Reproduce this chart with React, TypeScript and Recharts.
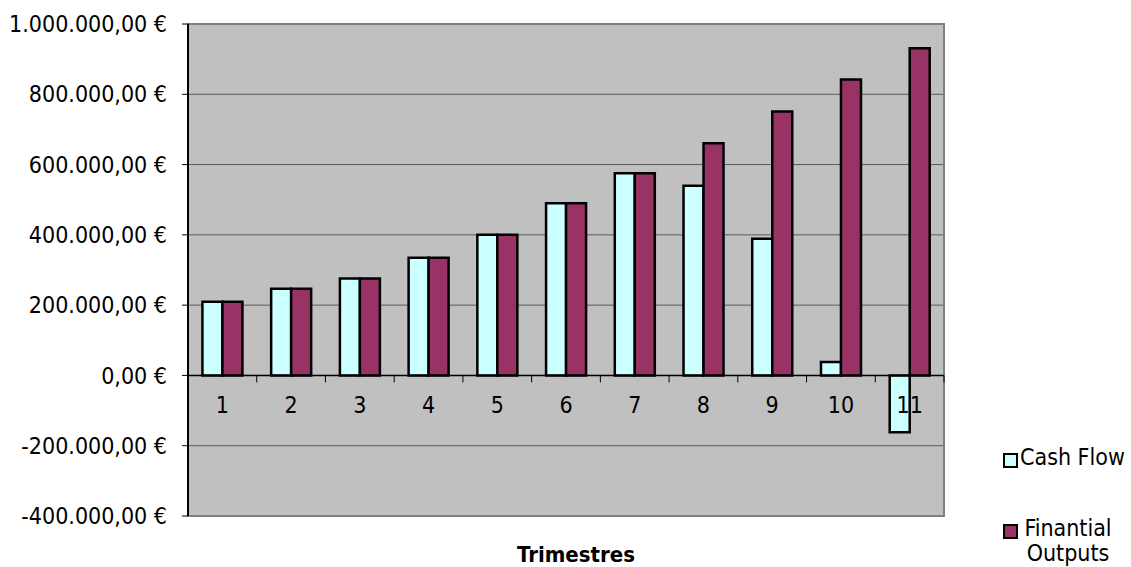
import React from "react"
import {
  BarChart,
  Bar,
  XAxis,
  YAxis,
  CartesianGrid,
  ReferenceLine,
  ReferenceArea,
  Legend,
} from "recharts"

const quarters = ["1", "2", "3", "4", "5", "6", "7", "8", "9", "10", "11"]
const cashFlow = [210000, 247000, 276000, 335000, 400000, 490000, 575000, 540000, 389000, 38000, -162000]
const finantialOutputs = [210000, 247000, 276000, 335000, 400000, 490000, 575000, 661000, 751000, 842000, 931000]
const yTicks = [-400000, -200000, 0, 200000, 400000, 600000, 800000, 1000000]
const seriesNames = ["Cash Flow", "Finantial Outputs"]
const xTitle = "Trimestres"

const COLORS = {
  cash: "#ccffff",
  fin: "#993366",
  plot: "#c0c0c0",
  grid: "#5a5a5a",
  border: "#808080",
}

const W = 1131
const H = 567
const MARGIN = { top: 24, right: 187, bottom: 0, left: 8 }
const Y_AXIS_W = 180
const X_AXIS_H = 51
const FONT = "'DejaVu Sans Condensed', 'DejaVu Sans', sans-serif"

const plotTop = MARGIN.top
const plotHeight = H - MARGIN.top - MARGIN.bottom - X_AXIS_H
const plotWidth = W - MARGIN.left - MARGIN.right - Y_AXIS_W
const yMin = yTicks[0]
const yMax = yTicks[yTicks.length - 1]
const zeroY = plotTop + (plotHeight * yMax) / (yMax - yMin)
const band = plotWidth / quarters.length

const data = quarters.map((q, i) => ({
  q,
  cash: cashFlow[i],
  fin: finantialOutputs[i],
}))

function euro(v: number) {
  const neg = v < 0
  const s = Math.abs(Math.round(v)).toString().replace(/\B(?=(\d{3})+(?!\d))/g, ".")
  return `${neg ? "-" : ""}${s},00 €`
}

function QuarterTick(props: any) {
  const { x, payload, index } = props
  const last = index === quarters.length - 1
  return (
    <g>
      <line x1={x - band / 2} x2={x - band / 2} y1={zeroY} y2={zeroY + 7} stroke="#000" />
      {last && <line x1={x + band / 2} x2={x + band / 2} y1={zeroY} y2={zeroY + 7} stroke="#000" />}
      <text
        x={x}
        y={zeroY + 30}
        textAnchor="middle"
        dominantBaseline="central"
        fontSize={23}
        fill="#000"
      >
        {payload.value}
      </text>
    </g>
  )
}

function LegendBox() {
  const swatches = [COLORS.cash, COLORS.fin]
  return (
    <div style={{ fontSize: 23, color: "#000", fontFamily: FONT, lineHeight: "25px" }}>
      {seriesNames.map((name, i) => (
        <div key={name} style={{ display: "flex", alignItems: "flex-start", marginBottom: 46 }}>
          <div
            style={{
              width: 11,
              height: 11,
              marginTop: 8,
              marginRight: 2,
              background: swatches[i],
              border: "2px solid #000",
              flexShrink: 0,
            }}
          />
          <div
            style={{
              width: i === 0 ? 120 : 96,
              whiteSpace: i === 0 ? "nowrap" : "normal",
              textAlign: i === 0 ? "left" : "center",
            }}
          >
            {name}
          </div>
        </div>
      ))}
    </div>
  )
}

export default function App() {
  return (
    <div style={{ position: "absolute", left: 0, top: 0, fontFamily: FONT, background: "#fff" }}>
      <BarChart
        width={W}
        height={H}
        data={data}
        margin={MARGIN}
        barCategoryGap="21%"
        barGap={0}
      >
        <CartesianGrid
          vertical={false}
          fill={COLORS.plot}
          stroke={COLORS.grid}
          fillOpacity={1}
        />
        <ReferenceArea
          y1={yMin}
          y2={yMax}
          fill="none"
          stroke={COLORS.border}
          strokeWidth={2}
          ifOverflow="visible"
        />
        <XAxis
          dataKey="q"
          height={X_AXIS_H}
          axisLine={false}
          tickLine={false}
          tick={<QuarterTick />}
          interval={0}
          label={{
            value: xTitle,
            position: "insideBottom",
            offset: 5,
            dx: 10,
            fontSize: 22,
            fontWeight: "bold",
            fill: "#000",
          }}
        />
        <YAxis
          width={Y_AXIS_W}
          domain={[yMin, yMax]}
          ticks={yTicks}
          tickFormatter={euro}
          axisLine={{ stroke: "#000", strokeWidth: 2 }}
          tickLine={{ stroke: "#000" }}
          tickSize={6}
          tickMargin={15}
          tick={{ fontSize: 23, fill: "#000" }}
          interval={0}
        />
        <ReferenceLine y={0} stroke="#000" strokeWidth={1.5} />
        <Bar dataKey="cash" name={seriesNames[0]} fill={COLORS.cash} stroke="#000" strokeWidth={2.5} isAnimationActive={false} />
        <Bar dataKey="fin" name={seriesNames[1]} fill={COLORS.fin} stroke="#000" strokeWidth={2.5} isAnimationActive={false} />
        <Legend
          layout="horizontal"
          verticalAlign="middle"
          align="center"
          content={<LegendBox />}
          wrapperStyle={{ left: 1003, top: 445, width: 128 }}
        />
      </BarChart>
    </div>
  )
}
